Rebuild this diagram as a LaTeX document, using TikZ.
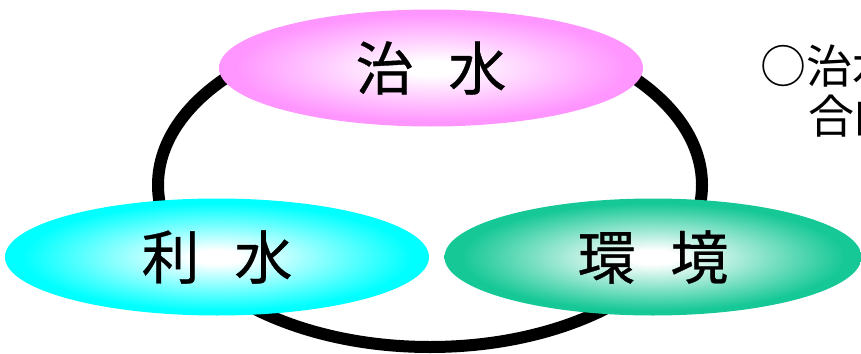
\documentclass[tikz,border=0pt]{standalone}
\usepackage{fontspec}
\setmainfont{Noto Sans CJK JP}
\newfontfamily\fieldfont{Noto Sans CJK JP}[FakeBold=0.6]
\usetikzlibrary{shapes.geometric}
\definecolor{chisuiPink}{RGB}{255,150,255}
\definecolor{risuiCyan}{RGB}{0,255,255}
\definecolor{kankyoGreen}{RGB}{22,200,150}
\pgfdeclareradialshading{chisuiGlow}{\pgfpoint{0bp}{0bp}}{color(0bp)=(white);color(3bp)=(white);color(23bp)=(chisuiPink);color(50bp)=(chisuiPink)}
\pgfdeclareradialshading{risuiGlow}{\pgfpoint{0bp}{0bp}}{color(0bp)=(white);color(3bp)=(white);color(23bp)=(risuiCyan);color(50bp)=(risuiCyan)}
\pgfdeclareradialshading{kankyoGlow}{\pgfpoint{0bp}{0bp}}{color(0bp)=(white);color(3bp)=(white);color(23bp)=(kankyoGreen);color(50bp)=(kankyoGreen)}

\begin{document}
\begin{tikzpicture}[x=1pt,y=-1pt,
  field/.style={ellipse,shade,minimum width=424pt,minimum height=117pt,inner sep=0pt,font=\fieldfont\fontsize{58}{60}\selectfont},
  note/.style={anchor=west,inner sep=0pt,font=\fontsize{46}{50}\selectfont}]
  \useasboundingbox (0,0) rectangle (861,353);
  % ring behind the three fields
  \draw[line width=12pt](430,185) ellipse [x radius=272,y radius=162];
  \node[field,shading=chisuiGlow] (chisui) at (431,68) {治\hspace{0.6em}水};
  \node[field,shading=risuiGlow] (risui) at (217,257) {利\hspace{0.6em}水};
  \node[field,shading=kankyoGlow,minimum width=417pt] (kankyo) at (653,257) {環\hspace{0.6em}境};
  \node[note] (note1) at (760,66) {○治水};
  \node[note] (note2) at (808,116) {合的};
\end{tikzpicture}
\end{document}
